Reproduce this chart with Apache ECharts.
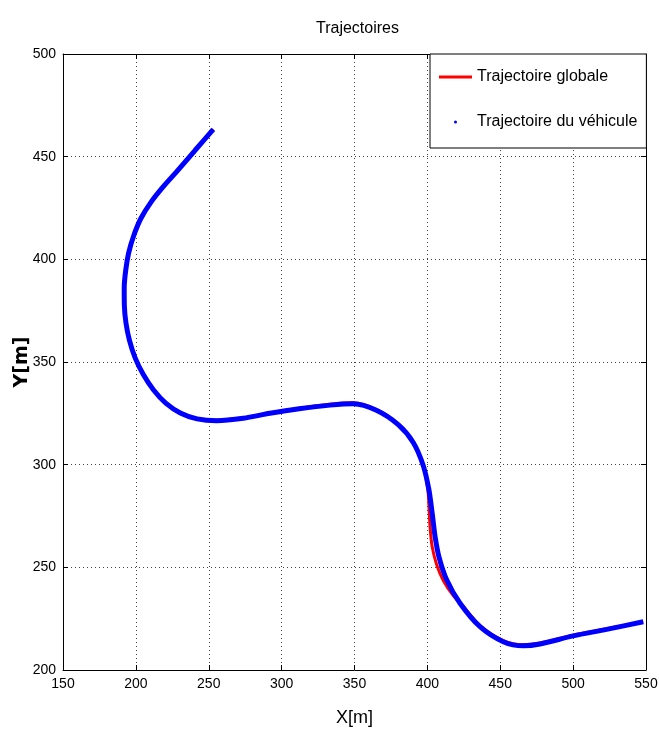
<!DOCTYPE html>
<html>
<head>
<meta charset="utf-8">
<script src="https://cdn.jsdelivr.net/npm/echarts@6/dist/echarts.min.js"></script>
<style>html,body{margin:0;padding:0;background:#fff}#c{width:659px;height:742px}</style>
</head>
<body>
<div id="c"></div>
<script>
const xTicks = [150, 200, 250, 300, 350, 400, 450, 500, 550];
const yTicks = [200, 250, 300, 350, 400, 450, 500];
const seriesNames = ['Trajectoire globale', 'Trajectoire du véhicule'];

const vehicleX = [253.1,240.5,228.0,218.8,210.5,203.5,198.5,195.0,193.0,192.0,192.1,193.2,195.6,199.5,205.0,212.0,220.5,230.5,242.0,255.5,273.7,292.0,312.0,333.2,349.2,365.0,380.0,390.3,397.2,401.0,403.3,405.3,408.0,413.3,422.4,436.1,452.1,465.8,477.3,500.1,523.0,548.1];
const vehicleY = [463.3,453.0,442.7,435.4,428.0,420.0,411.5,403.0,394.5,386.0,377.5,369.0,360.5,352.0,344.0,336.5,330.0,325.2,322.3,321.4,322.6,325.0,327.2,329.0,329.7,326.5,319.5,310.8,299.5,288.0,276.3,265.0,255.0,243.8,232.5,221.1,213.8,211.8,212.7,216.6,219.8,223.5];

const globalX = [253.1,240.5,228.0,218.8,210.5,203.5,198.5,195.0,193.0,192.0,192.1,193.2,195.6,199.5,205.0,212.0,220.5,230.5,242.0,255.5,273.7,292.0,312.0,333.2,349.2,365.0,380.0,390.3,397.2,400.3,401.2,401.8,403.3,406.5,411.0,417.5,424.0,436.1,452.1,465.8,477.3,500.1,523.0,548.1];
const globalY = [463.3,453.0,442.7,435.4,428.0,420.0,411.5,403.0,394.5,386.0,377.5,369.0,360.5,352.0,344.0,336.5,330.0,325.4,322.5,321.6,322.8,325.2,327.5,329.4,330.1,326.8,319.6,310.8,299.5,288.0,278.0,270.0,260.0,251.0,243.5,236.5,231.5,221.6,214.3,212.3,213.2,217.0,220.1,223.5];

const FONT = '"Liberation Sans", Arial, sans-serif';
const zip = (a, b) => a.map((v, i) => [v, b[i]]);

const chart = echarts.init(document.getElementById('c'), null, {renderer: 'canvas'});

const baseAxis = {
  type: 'value',
  axisLine: {show: true, onZero: false, lineStyle: {color: '#000', width: 1}},
  axisTick: {show: true, inside: true, length: 5, lineStyle: {color: '#000'}},
};

chart.setOption({
  animation: false,
  backgroundColor: '#fff',
  title: {
    text: 'Trajectoires',
    left: 311, top: 16,
    textStyle: {fontFamily: FONT, fontSize: 16, fontWeight: 'normal', color: '#000'}
  },
  grid: {left: 63, right: 13, top: 54, bottom: 72, containLabel: false, outerBoundsMode: 'none'},
  legend: {
    orient: 'vertical',
    left: 430, top: 54,
    padding: [15, 9, 18, 9],
    itemGap: 29,
    itemWidth: 33, itemHeight: 3,
    selectedMode: false,
    backgroundColor: '#fff',
    borderColor: '#000', borderWidth: 1,
    textStyle: {fontFamily: FONT, fontSize: 16, color: '#000'},
    data: [
      {name: seriesNames[0], icon: 'rect'},
      {name: seriesNames[1], icon: 'circle'}
    ]
  },
  xAxis: [
    Object.assign({}, baseAxis, {
      position: 'bottom', min: xTicks[0], max: xTicks[xTicks.length - 1], interval: 50,
      name: 'X[m]', nameLocation: 'middle', nameGap: 39, nameMoveOverlap: false,
      nameTextStyle: {fontFamily: FONT, fontSize: 18, color: '#000'},
      axisLabel: {fontFamily: FONT, fontSize: 14, color: '#000', margin: 7},
      splitLine: {show: true, lineStyle: {color: '#444', type: [1, 3], width: 1}}
    }),
    Object.assign({}, baseAxis, {
      position: 'top', min: xTicks[0], max: xTicks[xTicks.length - 1], interval: 50,
      axisLabel: {show: false}, splitLine: {show: false}
    })
  ],
  yAxis: [
    Object.assign({}, baseAxis, {
      position: 'left', min: yTicks[0], max: yTicks[yTicks.length - 1], interval: 50,
      name: 'Y[m]', nameLocation: 'middle', nameGap: 31, nameMoveOverlap: false,
      nameTextStyle: {fontFamily: '"DejaVu Sans", sans-serif', fontWeight: 'bold', fontSize: 19, color: '#000'},
      axisLabel: {fontFamily: FONT, fontSize: 14, color: '#000', margin: 7},
      splitLine: {show: true, lineStyle: {color: '#444', type: [1, 3], width: 1}}
    }),
    Object.assign({}, baseAxis, {
      position: 'right', min: yTicks[0], max: yTicks[yTicks.length - 1], interval: 50,
      axisLabel: {show: false}, splitLine: {show: false}
    })
  ],
  series: [
    {
      name: seriesNames[0], type: 'line', xAxisIndex: 0, yAxisIndex: 0,
      data: zip(globalX, globalY), showSymbol: false, smooth: 0.3,
      color: '#ff0000', lineStyle: {color: '#ff0000', width: 3}, z: 2
    },
    {
      name: seriesNames[1], type: 'line', xAxisIndex: 0, yAxisIndex: 0,
      data: zip(vehicleX, vehicleY), showSymbol: false, smooth: 0.3,
      color: '#0000ff', lineStyle: {color: '#0000ff', width: 5}, z: 3
    }
  ]
});
</script>
</body>
</html>
